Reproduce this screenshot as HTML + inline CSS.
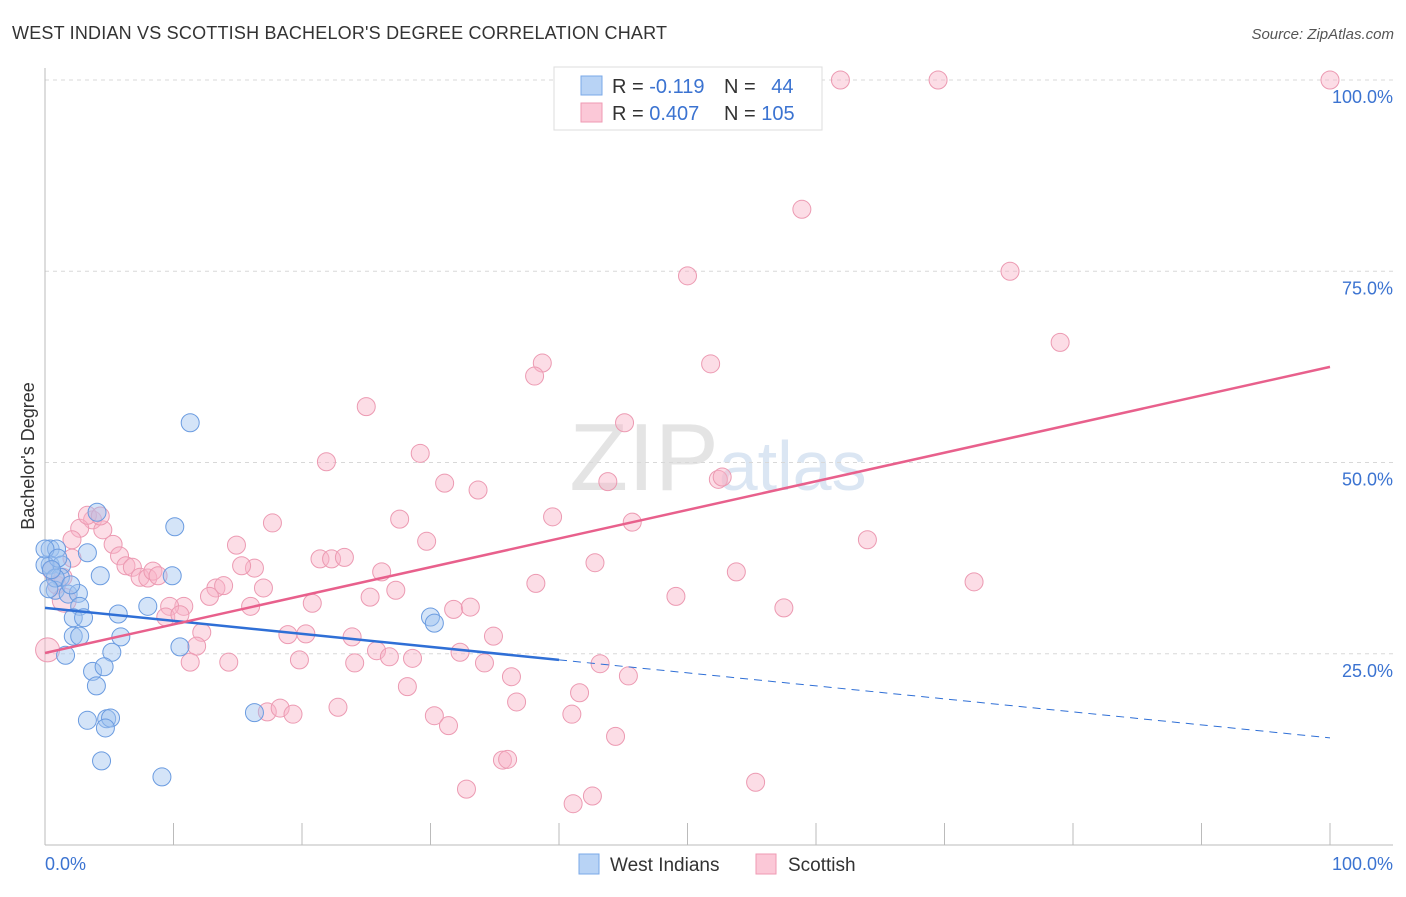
<!DOCTYPE html>
<html><head><meta charset="utf-8"><style>
body{margin:0;background:#fff;font-family:"Liberation Sans",sans-serif;}
svg text{font-family:"Liberation Sans",sans-serif;}
</style></head><body>
<svg id="chart" width="1406" height="892" xmlns="http://www.w3.org/2000/svg">
<text x="12" y="39" font-size="18" fill="#333" textLength="655">WEST INDIAN VS SCOTTISH BACHELOR'S DEGREE CORRELATION CHART</text>
<text x="1394" y="39" font-size="15" fill="#555" font-style="italic" text-anchor="end">Source: ZipAtlas.com</text>
<text x="718" y="490" font-size="96" fill="#e4e4e4" text-anchor="middle" font-family="Liberation Serif">ZIP<tspan fill="#dbe6f3" font-family="Liberation Sans" font-size="70">atlas</tspan></text>
<g id="grid"></g>
<g id="axes"></g>
<g id="points"></g>
<g id="trend"></g>
<text transform="translate(34,456) rotate(-90)" font-size="18" fill="#333" text-anchor="middle">Bachelor's Degree</text>
<g>
<rect x="554" y="67" width="268" height="63" fill="#fff" stroke="#ddd"/>
<rect x="581" y="76" width="21" height="19" fill="#b8d3f5" stroke="#7aa8e8"/>
<rect x="581" y="103" width="21" height="19" fill="#fbc8d7" stroke="#ef9ab3"/>
<text x="612" y="93" font-size="20" fill="#333">R = <tspan fill="#3b73d1">-0.119</tspan></text>
<text x="724" y="93" font-size="20" fill="#333">N = <tspan fill="#3b73d1" dx="10">44</tspan></text>
<text x="612" y="120" font-size="20" fill="#333">R = <tspan fill="#3b73d1">0.407</tspan></text>
<text x="724" y="120" font-size="20" fill="#333">N = <tspan fill="#3b73d1">105</tspan></text>
</g>
<g>
<rect x="579" y="854" width="20" height="20" fill="#b8d3f5" stroke="#7aa8e8"/>
<text x="610" y="871" font-size="19" fill="#333">West Indians</text>
<rect x="756" y="854" width="20" height="20" fill="#fbc8d7" stroke="#ef9ab3"/>
<text x="788" y="871" font-size="19" fill="#333">Scottish</text>
</g>
</svg>
<script>
const blueX=[4.05,10.1,11.3,0.4,0.9,3.3,0.4,1.3,1.2,4.3,9.9,0.8,1.8,2.6,2.7,8.0,5.7,2.2,3.0,2.2,2.7,5.9,10.5,1.6,5.2,3.7,4.6,4.0,16.3,3.3,4.8,5.1,4.7,4.4,9.1,30.0,30.3,0,0.8,0,1.0,0.5,2.0,0.3];
const blueY=[43.5,41.6,55.2,38.7,38.7,38.2,36.6,36.6,35.0,35.2,35.2,33.3,32.8,32.9,31.2,31.2,30.2,29.7,29.7,27.3,27.3,27.2,25.9,24.8,25.2,22.7,23.3,20.8,17.3,16.3,16.5,16.6,15.3,11.0,8.9,29.8,29.0,36.6,34.9,38.7,37.5,36.0,34.0,33.5];
const pinkX=[61.9,69.5,100,58.9,50.0,75.1,79.0,51.8,38.7,38.1,25.0,45.1,29.2,21.9,31.1,33.7,43.8,52.4,52.7,27.6,39.5,45.7,17.7,64.0,29.7,14.9,21.4,22.3,23.3,16.3,15.3,26.2,42.8,53.8,72.3,38.2,27.3,25.3,17.0,13.3,13.9,12.8,20.8,16.0,31.8,33.1,49.1,57.5,10.8,9.7,9.4,10.5,12.2,11.8,18.9,20.3,23.9,34.9,24.1,25.8,26.8,28.6,32.3,34.2,11.3,14.3,19.8,43.2,45.4,36.3,28.2,41.6,36.7,22.8,17.3,18.3,19.3,30.3,31.4,41.0,44.4,35.6,36.0,55.3,32.8,42.6,41.1,0.9,3.7,2.7,2.1,4.5,5.3,5.8,6.3,6.8,7.4,8.0,8.4,8.8,1.4,0.5,0.2,1.5,2.1,3.3,4.3];
const pinkY=[100,100,100,83.1,74.4,75.0,65.7,62.9,63.0,61.3,57.3,55.2,51.2,50.1,47.3,46.4,47.5,47.8,48.1,42.6,42.9,42.2,42.1,39.9,39.7,39.2,37.4,37.4,37.6,36.2,36.5,35.7,36.9,35.7,34.4,34.2,33.3,32.4,33.6,33.6,33.9,32.5,31.6,31.2,30.8,31.1,32.5,31.0,31.2,31.2,29.8,30.1,27.8,26.0,27.5,27.6,27.2,27.3,23.8,25.4,24.6,24.4,25.2,23.8,23.9,23.9,24.2,23.7,22.1,22.0,20.7,19.9,18.7,18.0,17.4,17.9,17.1,16.9,15.6,17.1,14.2,11.1,11.2,8.2,7.3,6.4,5.4,34.0,42.5,41.4,39.9,41.2,39.3,37.8,36.5,36.3,35.0,34.9,35.8,35.2,35.0,35.9,25.5,32.0,37.5,43.1,43.0];
const yTicks=[25,50,75,100];
const yTickLabels=["25.0%","50.0%","75.0%","100.0%"];
const blueTrend=[31.0,14.0];
const pinkTrend=[25.1,62.5];
const blueSolidEnd=40;
const NS="http://www.w3.org/2000/svg";
const sx=v=>45+v*12.85, sy=v=>845-v*7.65;
function mk(tag,attrs,parent){const e=document.createElementNS(NS,tag);for(const k in attrs)e.setAttribute(k,attrs[k]);parent.appendChild(e);return e;}
const grid=document.getElementById('grid'),axes=document.getElementById('axes'),pts=document.getElementById('points'),tr=document.getElementById('trend');
yTicks.forEach((t,i)=>{
 const l=mk('line',{x1:45,x2:1393,y1:sy(t),y2:sy(t),stroke:'#d8d8d8','stroke-dasharray':'4,4'},grid);
 
 
 const tx=mk('text',{x:1393,y:sy(t)+23,'font-size':18,fill:'#3b73d1','text-anchor':'end'},axes);
 tx.textContent=yTickLabels[i];
 
 
});
mk('line',{x1:45,x2:45,y1:68,y2:845,stroke:'#bbb'},axes);
mk('line',{x1:45,x2:1393,y1:845,y2:845,stroke:'#bbb'},axes);
for(let i=0;i<=10;i++){const l=mk('line',{x1:sx(i*10),x2:sx(i*10),y1:823,y2:845,stroke:'#bbb'},axes);
 
 }
const x0=mk('text',{x:45,y:870,'font-size':18,fill:'#3b73d1'},axes);x0.textContent='0.0%';


const x1=mk('text',{x:1393,y:870,'font-size':18,fill:'#3b73d1','text-anchor':'end'},axes);x1.textContent='100.0%';


pinkX.forEach((x,i)=>{const c=mk('circle',{cx:sx(x),cy:sy(pinkY[i]),r:(x<2&&(pinkY[i]<33))?12:9,fill:'rgba(248,180,200,0.45)',stroke:'#ec9ab2','stroke-width':1},pts);
 
 });
blueX.forEach((x,i)=>{const c=mk('circle',{cx:sx(x),cy:sy(blueY[i]),r:9,fill:'rgba(160,195,240,0.45)',stroke:'#6a9be0','stroke-width':1},pts);
 
 });
const by=x=>blueTrend[0]+(blueTrend[1]-blueTrend[0])*x/100;
const b1=mk('line',{x1:sx(0),y1:sy(by(0)),x2:sx(blueSolidEnd),y2:sy(by(blueSolidEnd)),stroke:'#2f6fd6','stroke-width':2.5},tr);


const b2=mk('line',{x1:sx(blueSolidEnd),y1:sy(by(blueSolidEnd)),x2:sx(100),y2:sy(by(100)),stroke:'#2f6fd6','stroke-width':1,'stroke-dasharray':'8,6'},tr);


const p1=mk('line',{x1:sx(0),y1:sy(pinkTrend[0]),x2:sx(100),y2:sy(pinkTrend[1]),stroke:'#e8608c','stroke-width':2.5},tr);


</script>
</body></html>
